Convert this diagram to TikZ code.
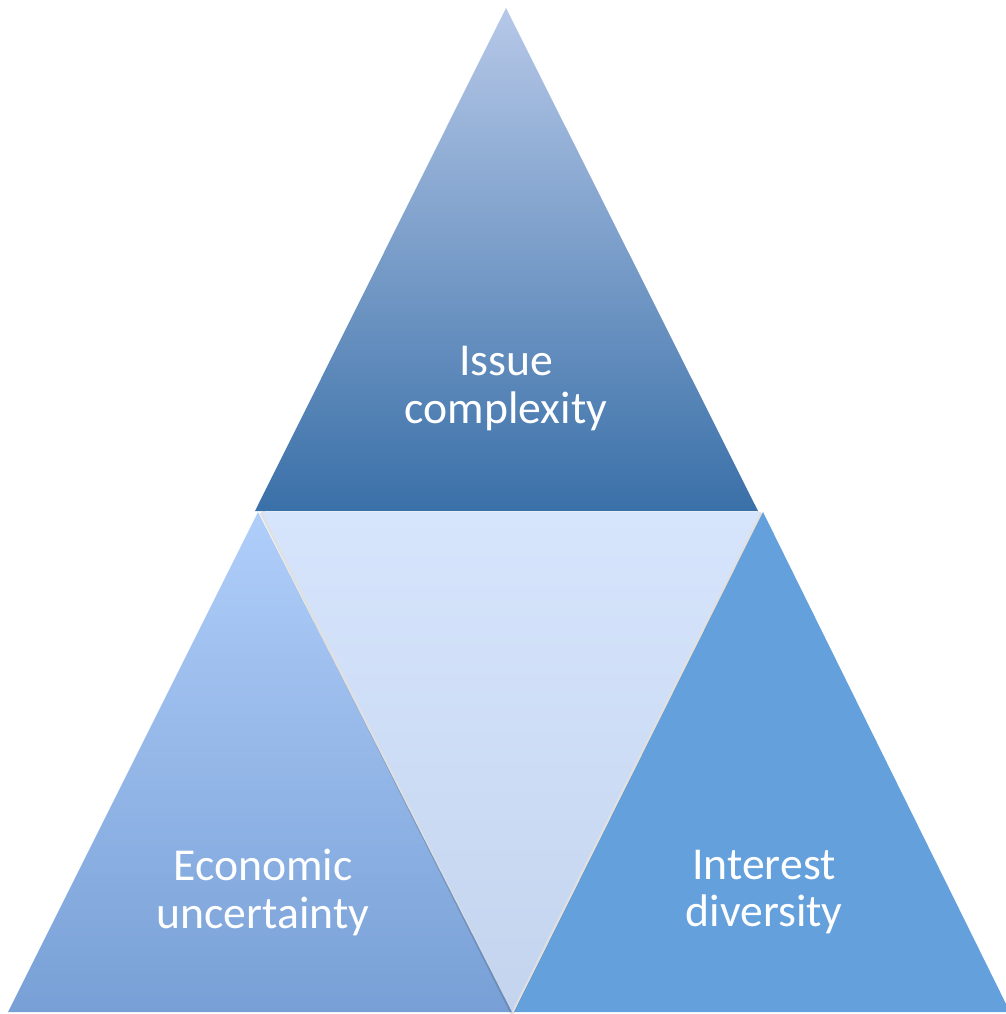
\documentclass[tikz,border=0pt]{standalone}
\usepackage{fontspec}
\setmainfont{Carlito}
\usetikzlibrary{positioning}
\definecolor{topA}{RGB}{182,200,232}
\definecolor{topB}{RGB}{58,112,168}
\definecolor{leftA}{RGB}{176,206,250}
\definecolor{leftB}{RGB}{120,160,214}
\definecolor{midA}{RGB}{214,229,252}
\definecolor{midB}{RGB}{196,212,238}
\definecolor{rightC}{RGB}{100,160,220}

\begin{document}
\begin{tikzpicture}
[x=0.02cm, y=-0.02cm,
  mylabel/.style={text=white, font=\fontsize{26}{27.3}\selectfont, align=center},
  myshadow/.style={draw=black, line width=3pt, opacity=0.12}
]
  \useasboundingbox (0,0) rectangle (1005,1014);

  % left and right triangles
  \shade[top color=leftA, bottom color=leftB] (258,512) -- (512,1012) -- (8,1012) -- cycle;
  \fill[rightC] (763,512) -- (1010,1012) -- (514,1012) -- cycle;

  % middle (upside down)
  \draw[myshadow] (262,512) -- (512,1011) -- (760,512);
  \shade[top color=midA, bottom color=midB] (262,512) -- (760,512) -- (512,1011) -- cycle;

  % top triangle
  \shade[top color=topA, bottom color=topB] (506,8) -- (758,511) -- (255,511) -- cycle;

  \node[mylabel] (issue) at (506,389) {Issue\\complexity};
  \node[mylabel] (econ) at (263,892) {Economic\\uncertainty};
  \node[mylabel] (interest) at (764,892) {Interest\\diversity};
\end{tikzpicture}
\end{document}
